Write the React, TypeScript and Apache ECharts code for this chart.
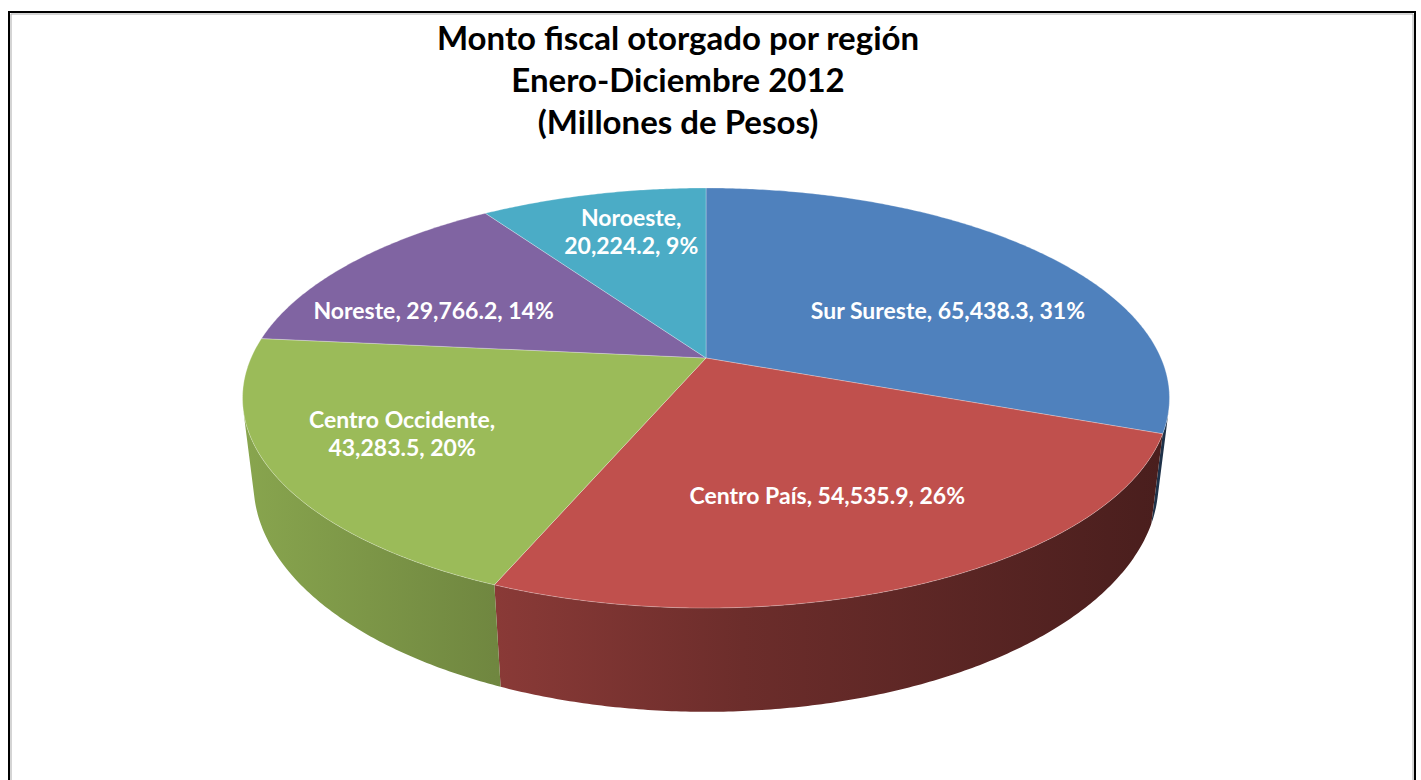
import React, { useEffect, useRef } from "react";
import * as echarts from "echarts";

const titleLines = ["Monto fiscal otorgado por región", "Enero-Diciembre 2012", "(Millones de Pesos)"];
const categories = ["Sur Sureste", "Centro País", "Centro Occidente", "Noreste", "Noroeste"];
const values = [65438.3, 54535.9, 43283.5, 29766.2, 20224.2];
const colors = ["#4F81BD", "#C0504D", "#9BBB59", "#8064A2", "#4BACC6"];

// label placement (style): radial fraction, angle nudge (deg), line break after name
const labelPlacement = [
  { f: 0.61, nudge: 10.7, br: false },
  { f: 0.644, nudge: 2, br: false },
  { f: 0.714, nudge: 1.8, br: true },
  { f: 0.674, nudge: -9.2, br: false },
  { f: 0.737, nudge: 2.4, br: true },
];

// projection geometry (style)
const CX = 706, CY = 358, A = 455, B = 202.4, K = 0.1905, T = 84, VY = 4040;
const RAD = Math.PI / 180;

function proj(f: number, deg: number): number[] {
  const s = Math.sin(deg * RAD), c = Math.cos(deg * RAD);
  const den = 1 + K * f * c;
  return [CX + (A * f * s) / den, CY - (B * f * c) / den];
}
function bottomOf(p: number[], deg: number): number[] {
  const c = Math.cos(deg * RAD);
  const dy = T / (1 + K * c);
  const dx = (dy * (CX - p[0])) / (VY - p[1]);
  return [p[0] + dx, p[1] + dy];
}
function silhouetteAngle(): number {
  let prev = 0;
  for (let d = 60; d <= 140; d += 0.05) {
    const p = proj(1, d), q = proj(1, d + 0.01);
    const tx = q[0] - p[0], ty = q[1] - p[1];
    const vx = CX - p[0], vy = VY - p[1];
    const cr = tx * vy - ty * vx;
    if (d > 60 && Math.sign(cr) !== Math.sign(prev)) return d;
    prev = cr;
  }
  return 101;
}
const THR = silhouetteAngle();
const THL = 360 - THR;

function shade(hex: string, f: number): string {
  const r = parseInt(hex.slice(1, 3), 16), g = parseInt(hex.slice(3, 5), 16), b = parseInt(hex.slice(5, 7), 16);
  return `rgb(${Math.round(r * f)},${Math.round(g * f)},${Math.round(b * f)})`;
}
function fmt(v: number): string {
  return v.toLocaleString("en-US", { minimumFractionDigits: 1, maximumFractionDigits: 1 });
}

const total = values.reduce((a, b) => a + b, 0);
function startAngle(i: number): number {
  let s = 0;
  for (let j = 0; j < i; j++) s += values[j];
  return (s / total) * 360;
}

function arcPoints(a: number, b: number): number[][] {
  const pts: number[][] = [];
  const n = Math.max(2, Math.ceil((b - a) / 0.5));
  for (let k = 0; k <= n; k++) pts.push(proj(1, a + ((b - a) * k) / n));
  return pts;
}

export default function App() {
  const ref = useRef<HTMLDivElement>(null);
  useEffect(() => {
    if (!ref.current) return;
    const chart = echarts.init(ref.current, undefined, { renderer: "svg" });
    const data = values.map((v, i) => ({ value: [v, i], name: categories[i] }));

    const sideRender = (params: any, api: any) => {
      const i = params.dataIndex;
      const v = api.value(0);
      const a0 = startAngle(i);
      const a1 = a0 + (v / total) * 360;
      const a = Math.max(a0, THR), b = Math.min(a1, THL);
      if (b <= a) return { type: "group", children: [] };
      const top = arcPoints(a, b);
      const n = top.length - 1;
      const bot = top.map((p, k) => bottomOf(p, a + ((b - a) * k) / n)).reverse();
      const col = colors[i];
      return {
        type: "polygon",
        shape: { points: top.concat(bot) },
        style: {
          fill: {
            type: "linear", x: 244, y: 0, x2: 1168, y2: 0, global: true,
            colorStops: [
              { offset: 0, color: shade(col, 0.88) },
              { offset: 0.27, color: shade(col, 0.72) },
              { offset: 0.54, color: shade(col, 0.56) },
              { offset: 1, color: shade(col, 0.38) },
            ],
          },
          stroke: null,
        },
      };
    };

    const topRender = (params: any, api: any) => {
      const i = params.dataIndex;
      const v = api.value(0);
      const a0 = startAngle(i);
      const a1 = a0 + (v / total) * 360;
      const pts = [[CX, CY]].concat(arcPoints(a0, a1));
      return {
        type: "polygon",
        shape: { points: pts },
        style: { fill: colors[i], stroke: "rgba(255,255,255,0.35)", lineWidth: 0.8 },
      };
    };

    const labelRender = (params: any, api: any) => {
      const i = params.dataIndex;
      const v = api.value(0);
      const a0 = startAngle(i);
      const mid = a0 + (v / total) * 180;
      const lp = labelPlacement[i];
      const p = proj(lp.f, mid + lp.nudge);
      const pct = Math.round((v / total) * 100);
      const text = categories[i] + (lp.br ? ",\n" : ", ") + fmt(v) + ", " + pct + "%";
      return {
        type: "text",
        x: p[0],
        y: p[1],
        style: {
          text,
          fill: "#ffffff",
          fontSize: 23,
          fontWeight: "bold",
          fontFamily: "Lato",
          align: "center",
          verticalAlign: "middle",
          lineHeight: 28,
        },
      };
    };

    chart.setOption({
      animation: false,
      backgroundColor: "#ffffff",
      title: {
        text: titleLines.join("\n"),
        left: 673,
        top: 11,
        textAlign: "center",
        textStyle: { fontFamily: "Lato", fontWeight: "bold", fontSize: 33, lineHeight: 42, color: "#000" },
      },
      graphic: [
        { type: "rect", silent: true, shape: { x: 9, y: 12, width: 1406, height: 800 }, style: { fill: "none", stroke: "#000", lineWidth: 2 } },
        { type: "rect", silent: true, shape: { x: 11, y: 14, width: 1402, height: 800 }, style: { fill: "none", stroke: "#aaa", lineWidth: 1 } },
      ],
      series: [
        { type: "custom", name: "sides", coordinateSystem: "none", renderItem: sideRender, data, z: 1 },
        { type: "custom", name: "tops", coordinateSystem: "none", renderItem: topRender, data, z: 2 },
        { type: "custom", name: "labels", coordinateSystem: "none", renderItem: labelRender, data, z: 3 },
      ],
    });
    return () => chart.dispose();
  }, []);
  return <div ref={ref} style={{ position: "fixed", left: 0, top: 0, width: 1421, height: 780 }} />;
}
